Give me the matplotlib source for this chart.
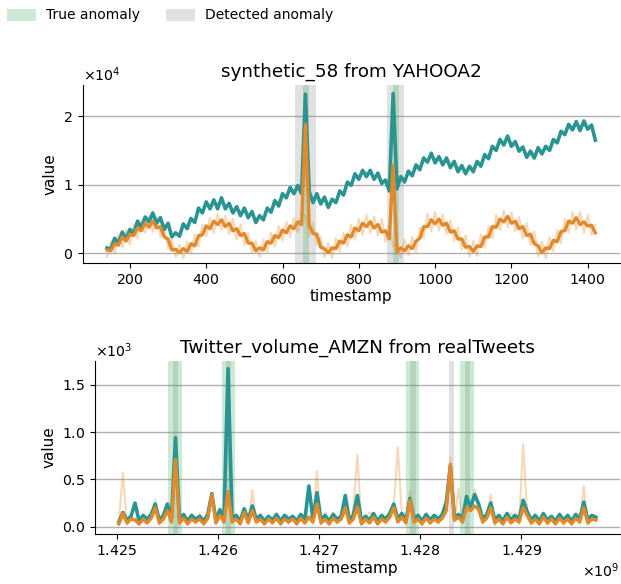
"""Anomaly detection plots for two benchmark series."""
import numpy as np
import matplotlib
matplotlib.use('Agg')
from matplotlib import pyplot as plt
from matplotlib import rc
from matplotlib.patches import Patch
from matplotlib.ticker import MultipleLocator

rc('font', size=10)
rc('axes', titlesize=13.2)
rc('axes', labelsize=11)
rc('xtick', labelsize=10.2)
rc('ytick', labelsize=10.2)

TEAL = '#2a9590'
ORANGE = '#e08a2c'

# ---- synthetic_58 (YAHOO A2), values in units of 1e4 ----
yahoo_timestamp = np.arange(140, 1421, 10)
yahoo_value = np.array([
    0.08, 0.06, 0.22, 0.15, 0.31, 0.21, 0.35, 0.29, 0.47, 0.37,
    0.53, 0.46, 0.59, 0.44, 0.52, 0.35, 0.44, 0.24, 0.30, 0.25,
    0.43, 0.36, 0.51, 0.45, 0.66, 0.59, 0.75, 0.65, 0.78, 0.65,
    0.81, 0.65, 0.73, 0.59, 0.68, 0.55, 0.66, 0.52, 0.61, 0.45,
    0.55, 0.49, 0.66, 0.60, 0.77, 0.69, 0.87, 0.81, 0.96, 0.87,
    0.99, 0.87, 2.32, 0.90, 0.74, 0.87, 0.72, 0.82, 0.67, 0.79,
    0.74, 0.91, 0.85, 1.04, 0.99, 1.16, 1.08, 1.21, 1.12, 1.21,
    1.08, 1.17, 1.02, 1.07, 0.91, 2.33, 0.94, 1.12, 1.04, 1.20,
    1.13, 1.29, 1.22, 1.39, 1.33, 1.46, 1.32, 1.41, 1.29, 1.39,
    1.25, 1.34, 1.19, 1.28, 1.16, 1.27, 1.19, 1.34, 1.27, 1.44,
    1.38, 1.56, 1.50, 1.66, 1.58, 1.71, 1.56, 1.63, 1.49, 1.55,
    1.40, 1.49, 1.39, 1.54, 1.45, 1.56, 1.50, 1.66, 1.61, 1.78,
    1.73, 1.88, 1.80, 1.92, 1.79, 1.93, 1.81, 1.87, 1.65]) * 1e4
yahoo_pred = np.array([
    0.05, 0.04, 0.14, 0.12, 0.24, 0.18, 0.28, 0.26, 0.37, 0.33,
    0.44, 0.38, 0.47, 0.37, 0.39, 0.24, 0.21, 0.05, 0.06, 0.01,
    0.07, 0.03, 0.14, 0.11, 0.26, 0.27, 0.40, 0.36, 0.47, 0.42,
    0.49, 0.39, 0.44, 0.33, 0.36, 0.26, 0.29, 0.15, 0.15, 0.04,
    0.08, 0.05, 0.17, 0.15, 0.26, 0.23, 0.34, 0.30, 0.40, 0.36,
    0.46, 0.42, 1.88, 0.41, 0.29, 0.28, 0.09, 0.07, 0.01, 0.08,
    0.07, 0.18, 0.15, 0.27, 0.24, 0.37, 0.33, 0.44, 0.39, 0.46,
    0.37, 0.42, 0.31, 0.33, 0.21, 1.29, 0.02, 0.08, 0.04, 0.11,
    0.07, 0.18, 0.22, 0.39, 0.39, 0.49, 0.43, 0.50, 0.41, 0.44,
    0.31, 0.33, 0.21, 0.21, 0.09, 0.10, 0.03, 0.11, 0.10, 0.24,
    0.24, 0.39, 0.38, 0.50, 0.46, 0.54, 0.44, 0.47, 0.36, 0.39,
    0.26, 0.28, 0.14, 0.11, 0.01, 0.08, 0.07, 0.19, 0.17, 0.32,
    0.33, 0.47, 0.44, 0.52, 0.42, 0.46, 0.40, 0.41, 0.30]) * 1e4
yahoo_band = np.array([
    -0.05, 0.18, 0.00, 0.28, 0.08, 0.34, 0.13, 0.42, 0.22, 0.48,
    0.30, 0.55, 0.31, 0.52, 0.24, 0.40, 0.07, 0.20, -0.06, 0.13,
    -0.07, 0.17, 0.00, 0.27, 0.10, 0.42, 0.25, 0.52, 0.30, 0.58,
    0.34, 0.55, 0.28, 0.50, 0.20, 0.42, 0.12, 0.30, 0.01, 0.18,
    -0.06, 0.20, 0.02, 0.30, 0.10, 0.40, 0.18, 0.46, 0.24, 0.52,
    0.30, 0.57, 0.55, 0.25, 0.45, 0.12, 0.24, -0.06, 0.15, -0.07,
    0.22, 0.03, 0.30, 0.10, 0.42, 0.20, 0.50, 0.27, 0.56, 0.30,
    0.54, 0.26, 0.50, 0.17, 0.40, 0.10, 0.14, -0.06, 0.20, -0.03,
    0.24, 0.02, 0.38, 0.22, 0.58, 0.32, 0.60, 0.33, 0.57, 0.28,
    0.48, 0.18, 0.38, 0.05, 0.26, -0.05, 0.18, -0.04, 0.27, 0.08,
    0.40, 0.22, 0.56, 0.34, 0.62, 0.38, 0.60, 0.32, 0.53, 0.22,
    0.44, 0.13, 0.32, -0.05, 0.17, -0.07, 0.24, 0.03, 0.34, 0.15,
    0.50, 0.30, 0.60, 0.35, 0.60, 0.30, 0.56, 0.27, 0.42]) * 1e4
yahoo_true = [(654, 669), (890, 905)]
yahoo_detected = [(632, 689), (875, 919)]

# ---- Twitter_volume_AMZN (realTweets), values in units of 1e3 ----
twitter_timestamp = 1.42502e9 + np.arange(119) * 4e4
twitter_value = np.array([
    0.05, 0.15, 0.07, 0.11, 0.25, 0.06, 0.12, 0.08, 0.13, 0.24,
    0.07, 0.12, 0.24, 0.08, 0.94, 0.07, 0.13, 0.06, 0.12, 0.08,
    0.11, 0.06, 0.13, 0.35, 0.07, 0.18, 0.08, 1.67, 0.09, 0.12,
    0.06, 0.19, 0.07, 0.22, 0.08, 0.12, 0.06, 0.11, 0.07, 0.13,
    0.06, 0.12, 0.08, 0.11, 0.06, 0.13, 0.07, 0.43, 0.08, 0.36,
    0.07, 0.12, 0.06, 0.13, 0.08, 0.11, 0.33, 0.07, 0.12, 0.33,
    0.06, 0.11, 0.07, 0.14, 0.06, 0.12, 0.08, 0.14, 0.24, 0.08,
    0.14, 0.07, 0.30, 0.08, 0.12, 0.06, 0.13, 0.07, 0.12, 0.08,
    0.13, 0.26, 0.64, 0.10, 0.13, 0.08, 0.32, 0.20, 0.34, 0.24,
    0.08, 0.13, 0.25, 0.07, 0.12, 0.06, 0.14, 0.07, 0.12, 0.08,
    0.28, 0.16, 0.07, 0.12, 0.06, 0.14, 0.07, 0.11, 0.06, 0.13,
    0.07, 0.12, 0.06, 0.13, 0.08, 0.26, 0.07, 0.12, 0.10]) * 1e3
twitter_pred = np.array([
    0.03, 0.14, 0.04, 0.08, 0.07, 0.03, 0.08, 0.04, 0.09, 0.20,
    0.04, 0.08, 0.17, 0.05, 0.71, 0.04, 0.09, 0.03, 0.08, 0.05,
    0.08, 0.03, 0.09, 0.34, 0.04, 0.12, 0.05, 0.37, 0.05, 0.08,
    0.03, 0.15, 0.04, 0.17, 0.05, 0.08, 0.03, 0.08, 0.04, 0.09,
    0.03, 0.08, 0.05, 0.08, 0.03, 0.09, 0.04, 0.10, 0.05, 0.24,
    0.04, 0.08, 0.03, 0.09, 0.05, 0.08, 0.20, 0.04, 0.08, 0.21,
    0.03, 0.08, 0.04, 0.10, 0.03, 0.08, 0.05, 0.10, 0.20, 0.05,
    0.10, 0.04, 0.28, 0.05, 0.08, 0.03, 0.09, 0.04, 0.08, 0.05,
    0.09, 0.17, 0.66, 0.07, 0.10, 0.05, 0.20, 0.17, 0.22, 0.18,
    0.05, 0.09, 0.20, 0.04, 0.08, 0.03, 0.10, 0.04, 0.08, 0.05,
    0.20, 0.12, 0.04, 0.08, 0.03, 0.10, 0.04, 0.08, 0.03, 0.09,
    0.04, 0.08, 0.03, 0.09, 0.05, 0.20, 0.04, 0.08, 0.07]) * 1e3
twitter_band = np.array([
    0.05, 0.57, 0.02, 0.10, 0.09, 0.02, 0.11, 0.03, 0.12, 0.28,
    0.02, 0.10, 0.19, 0.03, 0.72, 0.02, 0.11, 0.02, 0.10, 0.03,
    0.14, 0.02, 0.10, 0.35, 0.03, 0.13, 0.03, 0.38, 0.03, 0.10,
    0.02, 0.17, 0.03, 0.39, 0.03, 0.10, 0.02, 0.11, 0.03, 0.10,
    0.02, 0.10, 0.03, 0.11, 0.02, 0.11, 0.03, 0.12, 0.03, 0.59,
    0.02, 0.15, 0.02, 0.15, 0.03, 0.10, 0.22, 0.02, 0.20, 0.76,
    0.02, 0.10, 0.15, 0.12, 0.02, 0.10, 0.03, 0.12, 0.22, 0.84,
    0.12, 0.02, 0.37, 0.03, 0.10, 0.02, 0.11, 0.03, 0.10, 0.03,
    0.11, 0.29, 0.73, 0.05, 0.40, 0.03, 0.22, 0.19, 0.39, 0.20,
    0.03, 0.11, 0.34, 0.02, 0.10, 0.02, 0.12, 0.14, 0.10, 0.03,
    0.87, 0.14, 0.02, 0.10, 0.02, 0.12, 0.02, 0.10, 0.02, 0.11,
    0.02, 0.10, 0.02, 0.11, 0.03, 0.43, 0.02, 0.10, 0.09]) * 1e3
twitter_true = [(1.425509e9, 1.425641e9), (1.426037e9, 1.426168e9),
                (1.427858e9, 1.427990e9), (1.428400e9, 1.428535e9)]
twitter_detected = [(1.425555e9, 1.425601e9), (1.426076e9, 1.426130e9),
                    (1.427898e9, 1.427957e9), (1.428284e9, 1.428340e9),
                    (1.428443e9, 1.428492e9)]


def plot_anomalies(ax, t, value, pred, band, true_spans, detected_spans, title):
    """Plot one series with its prediction and anomaly windows."""
    for lo, hi in detected_spans:
        ax.axvspan(lo, hi, color='#888888', alpha=0.25, lw=0, zorder=1)
    for lo, hi in true_spans:
        ax.axvspan(lo, hi, color='#33aa55', alpha=0.25, lw=0, zorder=1)
    ax.plot(t, band, color=ORANGE, alpha=0.33, lw=1.5, zorder=2)
    ax.plot(t, value, color=TEAL, lw=2.6, zorder=3)
    ax.plot(t, pred, color=ORANGE, lw=2.4, zorder=4)
    ax.set_title(title)
    ax.set_xlabel('timestamp', labelpad=2)
    ax.set_ylabel('value')
    ax.grid(axis='y', color='#b0b0b0', lw=1, zorder=0)
    ax.set_axisbelow(True)
    ax.spines['top'].set_visible(False)
    ax.spines['right'].set_visible(False)
    ax.ticklabel_format(useOffset=False, useMathText=True)
    ax.ticklabel_format(axis='y', scilimits=(-3, 3))


fig = plt.figure(figsize=(6.21, 5.84), dpi=100)
ax1 = fig.add_axes([0.133, 0.550, 0.865, 0.304])
ax2 = fig.add_axes([0.153, 0.0856, 0.845, 0.296])

plot_anomalies(ax1, yahoo_timestamp, yahoo_value, yahoo_pred, yahoo_band,
               yahoo_true, yahoo_detected, 'synthetic_58 from YAHOOA2')
ax1.set_ylim(-0.137e4, 2.45e4)
ax1.set_xlim(76, 1484)
ax1.yaxis.set_major_locator(MultipleLocator(1e4))

plot_anomalies(ax2, twitter_timestamp, twitter_value, twitter_pred, twitter_band,
               twitter_true, twitter_detected,
               'Twitter_volume_AMZN from realTweets')
ax2.set_ylim(-0.077e3, 1.75e3)
ax2.set_xlim(1.424784e9, 1.429976e9)

handles = [Patch(color='#33aa55', alpha=0.25, lw=0, label='True anomaly'),
           Patch(color='#888888', alpha=0.25, lw=0, label='Detected anomaly')]
fig.legend(handles=handles, loc='upper left', bbox_to_anchor=(-0.009, 1.007),
           ncol=2, frameon=False, fontsize=10, handlelength=2.1,
           handleheight=0.95, handletextpad=0.72, columnspacing=1.87)

plt.savefig('out.png', dpi=100)
